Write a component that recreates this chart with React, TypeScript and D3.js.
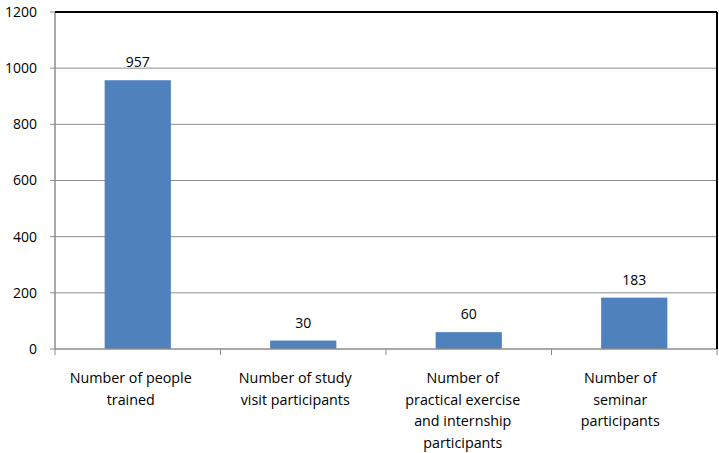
import React from "react";
import * as d3 from "d3";

const categories: string[][] = [
  ["Number of people", "trained"],
  ["Number of study", "visit participants"],
  ["Number of", "practical exercise", "and internship", "participants"],
  ["Number of", "seminar", "participants"],
];
const values: number[] = [957, 30, 60, 183];
const yTicks: number[] = [0, 200, 400, 600, 800, 1000, 1200];

const W = 719;
const H = 453;
const margin = { left: 55, right: 2, top: 12, bottom: 104 };
const FONT = "'Open Sans', 'Liberation Sans', sans-serif";
// horizontal nudge of each wrapped category label relative to its band centre
const labelShift = [-7, -8, -6, -14];

export default function App() {
  const x0 = margin.left;
  const x1 = W - margin.right;
  const y0 = H - margin.bottom;
  const y1 = margin.top;

  const x = d3
    .scaleBand<number>()
    .domain(values.map((_, i) => i))
    .range([x0, x1])
    .paddingInner(0.6)
    .paddingOuter(0.3);
  const band = d3.scaleBand<number>().domain(values.map((_, i) => i)).range([x0, x1]);
  const y = d3.scaleLinear().domain([0, 1200]).range([y0, y1]);

  return (
    <svg
      width={W}
      height={H}
      style={{ position: "absolute", left: 0, top: 0, background: "#fff" }}
      fontFamily={FONT}
    >
      {/* horizontal gridlines and y tick labels */}
      {yTicks.map((t) => (
        <g key={t}>
          {t > 0 && t < 1200 && (
            <line x1={x0} x2={x1} y1={y(t)} y2={y(t)} stroke="#8c8c8c" strokeWidth={1} />
          )}
          <line x1={x0 - 5} x2={x0} y1={y(t)} y2={y(t)} stroke="#8c8c8c" strokeWidth={1} />
          <text x={37} y={y(t)} dy="0.35em" textAnchor="end" fontSize={14} fill="#000">
            {t}
          </text>
        </g>
      ))}

      {/* bars */}
      {values.map((v, i) => (
        <rect
          key={i}
          x={x(i)}
          y={y(v)}
          width={x.bandwidth()}
          height={y0 - y(v)}
          fill="#4f81bd"
        />
      ))}

      {/* value labels */}
      {values.map((v, i) => (
        <text
          key={i}
          x={x(i)! + x.bandwidth() / 2}
          y={y(v) - 13}
          textAnchor="middle"
          fontSize={14}
          fill="#000"
        >
          {v}
        </text>
      ))}

      {/* axes */}
      <line x1={x0} x2={x0} y1={y1} y2={y0} stroke="#8c8c8c" strokeWidth={1.5} />
      <line x1={x0} x2={x1} y1={y0} y2={y0} stroke="#8c8c8c" strokeWidth={1.5} />
      {values.map((_, i) => (
        <line
          key={i}
          x1={band(i)!}
          x2={band(i)!}
          y1={y0}
          y2={y0 + 6}
          stroke="#8c8c8c"
          strokeWidth={1}
        />
      ))}
      <line x1={x1} x2={x1} y1={y0 + 6} y2={y0} stroke="#8c8c8c" strokeWidth={1} />

      {/* plot border on top and right */}
      <line x1={x0} x2={x1} y1={y1} y2={y1} stroke="#000" strokeWidth={2} />
      <line x1={x1} x2={x1} y1={y1} y2={y0} stroke="#000" strokeWidth={2} />

      {/* category labels */}
      {categories.map((lines, i) => {
        const cx = band(i)! + band.bandwidth() / 2 + labelShift[i];
        return (
          <text key={i} x={cx} y={383} textAnchor="middle" fontSize={14.3} fill="#000">
            {lines.map((l, j) => (
              <tspan key={j} x={cx} dy={j === 0 ? 0 : 21.7}>
                {l}
              </tspan>
            ))}
          </text>
        );
      })}
    </svg>
  );
}
